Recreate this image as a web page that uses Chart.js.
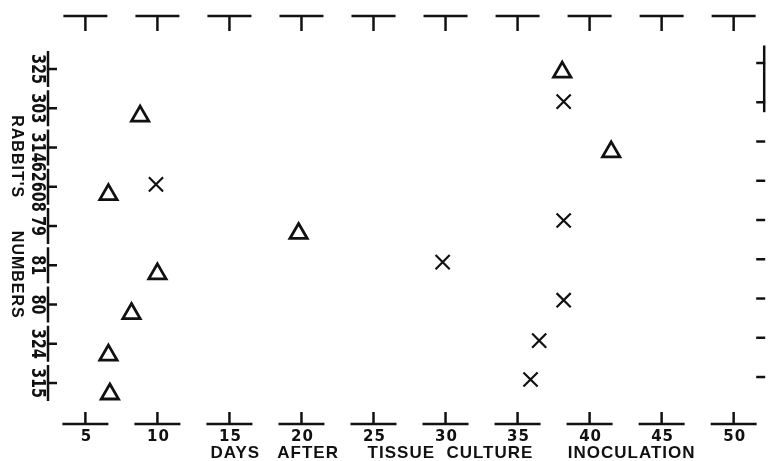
<!DOCTYPE html>
<html>
<head>
<meta charset="utf-8">
<script src="https://cdn.jsdelivr.net/npm/chart.js@4"></script>
<style>
  html, body { margin: 0; padding: 0; background: #fff; }
  #wrap { width: 778px; height: 461px; }
</style>
</head>
<body>
<div id="wrap"><canvas id="chart"></canvas></div>
<script>
// Rabbit numbers, top row to bottom row
const rabbits = ['325', '303', '314', '62608', '79', '81', '80', '324', '315'];
const dayTicks = [5, 10, 15, 20, 25, 30, 35, 40, 45, 50];

// Triangles: day and row position
const triangleDays = [38.1, 8.8, 41.5, 6.6, 19.8, 10.0, 8.2, 6.6, 6.7];
const triangleRows = [0.08, 1.2, 2.11, 3.2, 4.19, 5.22, 6.23, 7.29, 8.28];

// Crosses: day and row position
const crossDays = [38.2, 9.9, 38.2, 29.8, 38.2, 36.5, 35.9];
const crossRows = [0.83, 2.94, 3.86, 4.92, 5.89, 6.92, 7.91];

const INK = '#111';

function toPoints(xs, ys) {
  return xs.map((d, i) => ({ x: d, y: ys[i] }));
}

// Draws the hand-lettered looking axes of the old scan
const scanAxes = {
  id: 'scanAxes',
  afterDraw(chart) {
    const { ctx, chartArea: a, scales: { x, y } } = chart;
    const line = (x1, y1, x2, y2) => {
      ctx.beginPath();
      ctx.moveTo(x1, y1);
      ctx.lineTo(x2, y2);
      ctx.stroke();
    };
    ctx.save();
    ctx.strokeStyle = INK;
    ctx.fillStyle = INK;
    ctx.lineWidth = 2.5;

    // bottom and top day ticks
    ctx.font = 'bold 15px "DejaVu Sans"';
    ctx.letterSpacing = '1px';
    ctx.textAlign = 'center';
    ctx.textBaseline = 'middle';
    dayTicks.forEach(d => {
      const px = x.getPixelForValue(d);
      line(px - 23, a.bottom, px + 23, a.bottom);
      line(px, a.bottom, px, a.bottom - 12);
      line(px - 22, a.top + 1, px + 22, a.top + 1);
      line(px, a.top + 1, px, a.top + 16);
      ctx.fillText(String(d), px + 1, a.bottom + 13);
    });

    // x title
    ctx.font = 'bold 17px "Liberation Sans"';
    ctx.letterSpacing = '1px';
    ctx.fillText('DAYS   AFTER     TISSUE  CULTURE      INOCULATION', 453, a.bottom + 29);

    // left rabbit ticks, labels rotated clockwise
    ctx.font = 'bold 19px "DejaVu Sans"';
    ctx.letterSpacing = '0px';
    rabbits.forEach((r, i) => {
      const py = y.getPixelForValue(i);
      line(a.left, py - 18, a.left, py + 18);
      line(a.left, py, a.left + 9, py);
      line(a.right - 9, py - 6, a.right, py - 6);
      ctx.save();
      ctx.translate(a.left - 11, py);
      ctx.rotate(Math.PI / 2);
      ctx.scale(0.76, 1);
      ctx.fillText(r, 0, 0);
      ctx.restore();
    });
    line(a.right - 1, y.getPixelForValue(-0.6), a.right - 1, y.getPixelForValue(1.1));

    // y title
    ctx.font = 'bold 16px "Liberation Sans"';
    ctx.letterSpacing = '1px';
    ctx.save();
    ctx.translate(16, 217);
    ctx.rotate(Math.PI / 2);
    ctx.fillText("RABBIT'S      NUMBERS", 0, 0);
    ctx.restore();

    ctx.restore();
  }
};

new Chart(document.getElementById('chart'), {
  type: 'scatter',
  data: {
    datasets: [
      {
        label: 'triangle',
        data: toPoints(triangleDays, triangleRows),
        pointStyle: 'triangle',
        pointRadius: 10,
        pointBorderWidth: 2.8,
        borderColor: INK,
        backgroundColor: 'rgba(255,255,255,0)'
      },
      {
        label: 'cross',
        data: toPoints(crossDays, crossRows),
        pointStyle: 'crossRot',
        pointRadius: 10,
        pointBorderWidth: 2.2,
        borderColor: INK,
        backgroundColor: INK
      }
    ]
  },
  options: {
    responsive: true,
    maintainAspectRatio: false,
    animation: false,
    layout: { padding: { left: 48, top: 15, right: 1, bottom: 37 } },
    plugins: {
      legend: { display: false },
      tooltip: { enabled: false }
    },
    scales: {
      x: { type: 'linear', display: false, min: 2.405, max: 52.19 },
      y: { type: 'linear', display: false, reverse: true, min: -1.376, max: 9.044 }
    }
  },
  plugins: [scanAxes]
});
</script>
</body>
</html>
